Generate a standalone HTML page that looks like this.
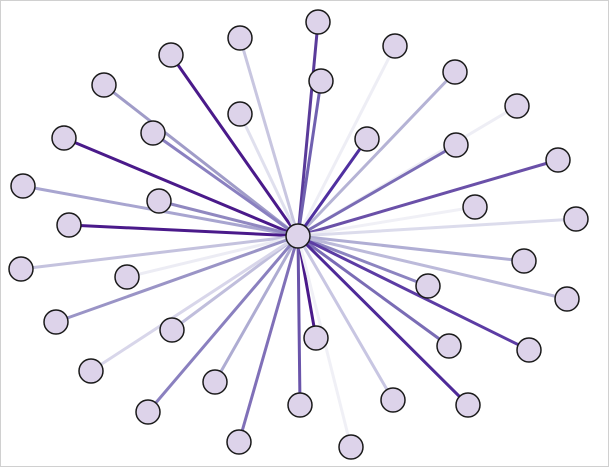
<!DOCTYPE html>
<html><head><meta charset="utf-8"><style>
html,body{margin:0;padding:0;background:#fff;}
svg{display:block;}
</style></head><body>
<svg width="609" height="467" viewBox="0 0 609 467" xmlns="http://www.w3.org/2000/svg">
<rect x="0.5" y="0.5" width="608" height="466" fill="#fff" stroke="#d0d0d0"/>
<g stroke-width="3" stroke-linecap="round">
<line x1="298" y1="236" x2="318" y2="22" stroke="#5a3b9a"/>
<line x1="298" y1="236" x2="240" y2="38" stroke="#c8c6e0"/>
<line x1="298" y1="236" x2="395" y2="46" stroke="#eeeef5"/>
<line x1="298" y1="236" x2="171" y2="55" stroke="#4a1a8a"/>
<line x1="298" y1="236" x2="455" y2="72" stroke="#b5b3d5"/>
<line x1="298" y1="236" x2="104" y2="85" stroke="#a09cc8"/>
<line x1="298" y1="236" x2="321" y2="81" stroke="#7060b0"/>
<line x1="298" y1="236" x2="517" y2="106" stroke="#eeeef5"/>
<line x1="298" y1="236" x2="240" y2="114" stroke="#e0e0ee"/>
<line x1="298" y1="236" x2="153" y2="133" stroke="#8a80c0"/>
<line x1="298" y1="236" x2="367" y2="139" stroke="#5030a0"/>
<line x1="298" y1="236" x2="64" y2="138" stroke="#4a1a8a"/>
<line x1="298" y1="236" x2="456" y2="145" stroke="#7a6cb5"/>
<line x1="298" y1="236" x2="558" y2="160" stroke="#6a50a8"/>
<line x1="298" y1="236" x2="23" y2="186" stroke="#a8a5d0"/>
<line x1="298" y1="236" x2="159" y2="201" stroke="#9088c0"/>
<line x1="298" y1="236" x2="475" y2="207" stroke="#f0f0f6"/>
<line x1="298" y1="236" x2="576" y2="219" stroke="#dcdcec"/>
<line x1="298" y1="236" x2="69" y2="225" stroke="#4a1a8a"/>
<line x1="298" y1="236" x2="21" y2="269" stroke="#c4c2de"/>
<line x1="298" y1="236" x2="127" y2="277" stroke="#ececf4"/>
<line x1="298" y1="236" x2="524" y2="261" stroke="#b0aed4"/>
<line x1="298" y1="236" x2="428" y2="286" stroke="#8c84c0"/>
<line x1="298" y1="236" x2="567" y2="299" stroke="#bcbada"/>
<line x1="298" y1="236" x2="56" y2="322" stroke="#9a94c6"/>
<line x1="298" y1="236" x2="172" y2="330" stroke="#c0bedc"/>
<line x1="298" y1="236" x2="316" y2="338" stroke="#4a1a8a"/>
<line x1="298" y1="236" x2="449" y2="346" stroke="#7a6cb5"/>
<line x1="298" y1="236" x2="529" y2="350" stroke="#5c3ca4"/>
<line x1="298" y1="236" x2="91" y2="371" stroke="#d8d6ea"/>
<line x1="298" y1="236" x2="215" y2="382" stroke="#aeacd2"/>
<line x1="298" y1="236" x2="300" y2="405" stroke="#6a54aa"/>
<line x1="298" y1="236" x2="393" y2="400" stroke="#c8c6e2"/>
<line x1="298" y1="236" x2="468" y2="405" stroke="#4e2a98"/>
<line x1="298" y1="236" x2="148" y2="412" stroke="#8a80bf"/>
<line x1="298" y1="236" x2="239" y2="442" stroke="#8070b8"/>
<line x1="298" y1="236" x2="351" y2="447" stroke="#f0f0f6"/>
</g>
<g fill="#ddd3ea" stroke="#1a1a1a" stroke-width="1.5">
<circle cx="318" cy="22" r="12"/><circle cx="240" cy="38" r="12"/><circle cx="395" cy="46" r="12"/>
<circle cx="171" cy="55" r="12"/><circle cx="455" cy="72" r="12"/><circle cx="104" cy="85" r="12"/>
<circle cx="321" cy="81" r="12"/><circle cx="517" cy="106" r="12"/><circle cx="240" cy="114" r="12"/>
<circle cx="153" cy="133" r="12"/><circle cx="367" cy="139" r="12"/><circle cx="64" cy="138" r="12"/>
<circle cx="456" cy="145" r="12"/><circle cx="558" cy="160" r="12"/><circle cx="23" cy="186" r="12"/>
<circle cx="159" cy="201" r="12"/><circle cx="475" cy="207" r="12"/><circle cx="576" cy="219" r="12"/>
<circle cx="69" cy="225" r="12"/><circle cx="21" cy="269" r="12"/><circle cx="127" cy="277" r="12"/>
<circle cx="524" cy="261" r="12"/><circle cx="428" cy="286" r="12"/><circle cx="567" cy="299" r="12"/>
<circle cx="56" cy="322" r="12"/><circle cx="172" cy="330" r="12"/><circle cx="316" cy="338" r="12"/>
<circle cx="449" cy="346" r="12"/><circle cx="529" cy="350" r="12"/><circle cx="91" cy="371" r="12"/>
<circle cx="215" cy="382" r="12"/><circle cx="300" cy="405" r="12"/><circle cx="393" cy="400" r="12"/>
<circle cx="468" cy="405" r="12"/><circle cx="148" cy="412" r="12"/><circle cx="239" cy="442" r="12"/>
<circle cx="351" cy="447" r="12"/>
<circle cx="298" cy="236" r="12"/>
</g>
</svg>
</body></html>
